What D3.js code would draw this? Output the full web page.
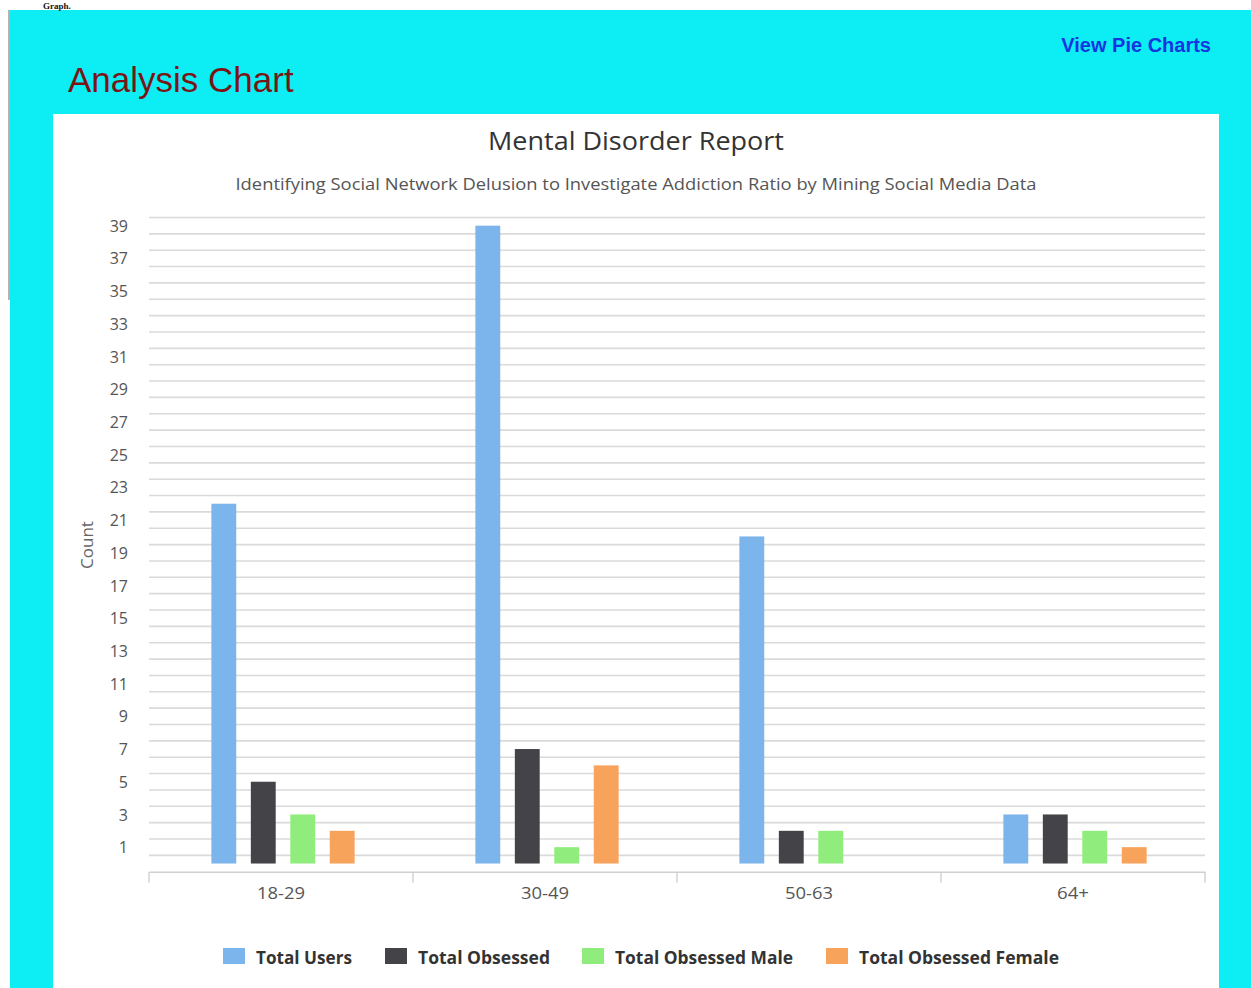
<!DOCTYPE html>
<html>
<head>
<meta charset="utf-8">
<script src="https://cdn.jsdelivr.net/npm/d3@7/dist/d3.min.js"></script>
<style>
  html, body { margin: 0; padding: 0; background: #fff; }
  svg { display: block; }
  text { font-family: "Open Sans", "Noto Sans", sans-serif; }
</style>
</head>
<body>
<svg id="page" width="1251" height="988"></svg>
<script>
// Age groups on the x axis
const categories = ["18-29", "30-49", "50-63", "64+"];

// Series names and counts per age group
const seriesNames = ["Total Users", "Total Obsessed", "Total Obsessed Male", "Total Obsessed Female"];
const totalUsers = [22, 39, 20, 3];
const totalObsessed = [5, 7, 2, 3];
const obsessedMale = [3, 1, 2, 2];
const obsessedFemale = [2, 6, 0, 1];

// Y axis labels
const yTickLabels = [1, 3, 5, 7, 9, 11, 13, 15, 17, 19, 21, 23, 25, 27, 29, 31, 33, 35, 37, 39];

const seriesColors = ["#7cb5ec", "#434348", "#90ed7d", "#f7a35c"];
const seriesValues = [totalUsers, totalObsessed, obsessedMale, obsessedFemale];

const svg = d3.select("#page");

// Page frame
svg.append("rect").attr("x", 0).attr("y", 0).attr("width", 1251).attr("height", 988).attr("fill", "#fff");
svg.append("rect").attr("x", 10).attr("y", 10).attr("width", 1241).attr("height", 978).attr("fill", "#0cedf4");
svg.append("text").attr("x", 43).attr("y", 9)
  .style("font-family", "'Liberation Serif', serif").style("font-weight", "bold").style("font-size", "9px")
  .attr("fill", "#111").text("Graph.");
svg.append("line").attr("x1", 9).attr("x2", 9).attr("y1", 10).attr("y2", 300)
  .attr("stroke", "#b9b0b0").attr("stroke-width", 2);

svg.append("text").attr("x", 68).attr("y", 92)
  .style("font-family", "'Liberation Sans', Arial, sans-serif").style("font-size", "35px")
  .attr("fill", "#7a1515").text("Analysis Chart");
svg.append("text").attr("x", 1211).attr("y", 52).attr("text-anchor", "end")
  .style("font-family", "'Liberation Sans', Arial, sans-serif").style("font-size", "20px").style("font-weight", "bold")
  .attr("fill", "#1535e0").text("View Pie Charts");

// Chart panel
svg.append("rect").attr("x", 53).attr("y", 114).attr("width", 1166).attr("height", 874).attr("fill", "#fff");

svg.append("text").attr("x", 636).attr("y", 150).attr("text-anchor", "middle")
  .style("font-size", "25px").attr("fill", "#333")
  .attr("textLength", 296).attr("lengthAdjust", "spacingAndGlyphs")
  .text("Mental Disorder Report");
svg.append("text").attr("x", 636).attr("y", 190).attr("text-anchor", "middle")
  .style("font-size", "17px").attr("fill", "#555")
  .attr("textLength", 801).attr("lengthAdjust", "spacingAndGlyphs")
  .text("Identifying Social Network Delusion to Investigate Addiction Ratio by Mining Social Media Data");

// Scales
const plotLeft = 149, plotRight = 1205;
const x0 = d3.scaleBand().domain(categories).range([plotLeft, plotRight]).padding(0);
const x1 = d3.scaleBand().domain(seriesNames).range([2, x0.bandwidth() + 2])
  .paddingInner(0.37).paddingOuter(1.53);
const y = d3.scaleLinear().domain([-0.5, 39.5]).range([871.7, 217.5]);

// Grid lines sit between the labelled values
const gridValues = d3.range(0, 40).map(d => d + 0.5);
svg.append("g").selectAll("line").data(gridValues).join("line")
  .attr("x1", plotLeft).attr("x2", plotRight)
  .attr("y1", d => y(d)).attr("y2", d => y(d))
  .attr("stroke", "#dadada").attr("stroke-width", 1.6);

// Y axis labels
const yAxis = d3.axisLeft(y).tickValues(yTickLabels).tickSize(0).tickPadding(0);
const yg = svg.append("g").attr("transform", "translate(128,0)").call(yAxis);
yg.select(".domain").remove();
yg.selectAll("text").style("font-size", "16px").attr("fill", "#555")
  .style("font-family", "'Open Sans', sans-serif").attr("dy", "0.35em");

svg.append("text").attr("transform", "translate(93,545) rotate(-90)").attr("text-anchor", "middle")
  .style("font-size", "17px").attr("fill", "#666").text("Count");

// Bars
const barGroups = svg.append("g").selectAll("g").data(categories).join("g")
  .attr("transform", c => `translate(${x0(c)},0)`);
barGroups.selectAll("rect")
  .data((c, i) => seriesNames.map((s, j) => ({ s, v: seriesValues[j][i], color: seriesColors[j] })))
  .join("rect")
  .attr("x", d => x1(d.s))
  .attr("width", x1.bandwidth())
  .attr("y", d => y(d.v))
  .attr("height", d => y(0) - y(d.v))
  .attr("fill", d => d.color);

// X axis
const xAxis = d3.axisBottom(x0).tickSize(0).tickPadding(16);
const xg = svg.append("g").attr("transform", `translate(0,${y(-0.5)})`).call(xAxis);
xg.select(".domain").attr("stroke", "#d0d0d0").attr("stroke-width", 1.6);
xg.selectAll("text").style("font-size", "16px").attr("fill", "#555")
  .style("font-family", "'Open Sans', sans-serif")
  .attr("textLength", 48).attr("lengthAdjust", "spacingAndGlyphs");
xg.selectAll(".tick").filter(d => d === "64+").select("text").attr("textLength", 32);
const boundaries = categories.map(c => x0(c)).concat([plotRight]);
xg.selectAll("line.bound").data(boundaries).join("line").attr("class", "bound")
  .attr("x1", d => d).attr("x2", d => d).attr("y1", 0).attr("y2", 11)
  .attr("stroke", "#d0d0d0").attr("stroke-width", 1.4);

// Legend
const legendX = [223, 385, 582, 826];
const legendTextWidth = [96, 132, 178, 200];
const legend = svg.append("g").selectAll("g").data(seriesNames).join("g")
  .attr("transform", (d, i) => `translate(${legendX[i]},948)`);
legend.append("rect").attr("width", 22).attr("height", 16).attr("fill", (d, i) => seriesColors[i]);
legend.append("text").attr("x", 33).attr("y", 16)
  .style("font-size", "17px").style("font-weight", "bold").attr("fill", "#333")
  .attr("textLength", (d, i) => legendTextWidth[i]).attr("lengthAdjust", "spacingAndGlyphs")
  .text(d => d);
</script>
</body>
</html>
